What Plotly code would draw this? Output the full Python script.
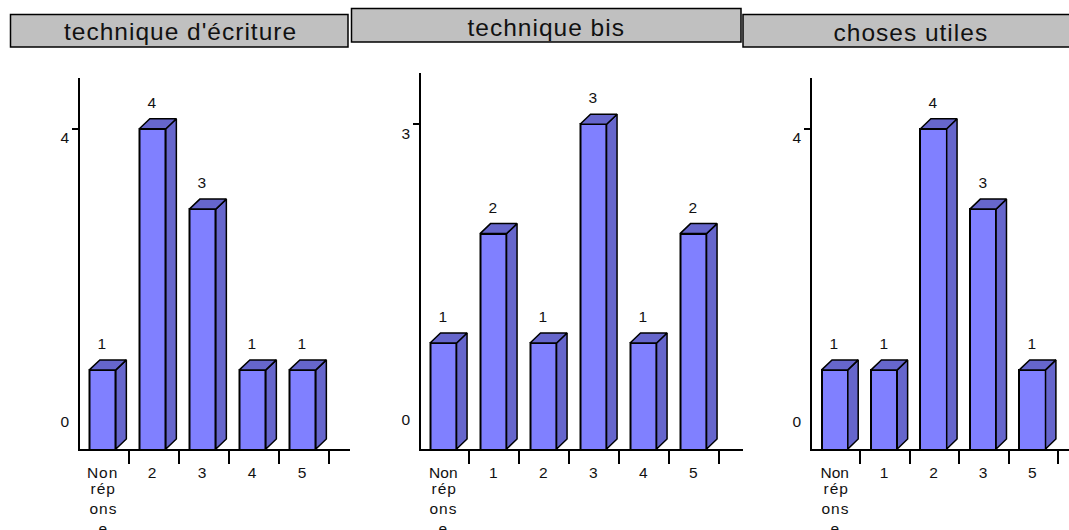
import plotly.graph_objects as go

W, H = 1069, 530

# ---- data ----
titles = ["technique d'écriture", "technique bis", "choses utiles"]
categories_1 = ["Non réponse", "2", "3", "4", "5"]
values_1 = [1, 4, 3, 1, 1]
categories_2 = ["Non réponse", "1", "2", "3", "4", "5"]
values_2 = [1, 2, 1, 3, 1, 2]
categories_3 = ["Non réponse", "1", "2", "3", "5"]
values_3 = [1, 1, 4, 3, 1]
axis_ticks = [[0, 4], [0, 3], [0, 4]]

# ---- layout constants (pixels of the 1069x530 page) ----
FRONT, SIDE, TOP = "#8080FF", "#6666CC", "#6666CC"
FONT = "Liberation Sans, Arial, sans-serif"
LABEL = dict(family=FONT, size=15.5, color="#111111")
boxes = [(10.5, 14.5, 348, 47), (351.5, 8.5, 741, 42), (743, 14.5, 1072, 47)]
title_y = [32, 28, 33]
title_x = [180, 546, 911]
panels = [
    dict(cats=categories_1, vals=values_1, ticks=axis_ticks[0], left=79.5, right=350, c0=102.6, top=78, zero=450.3, unit=80.4, tick_px=137, zero_px=421),
    dict(cats=categories_2, vals=values_2, ticks=axis_ticks[1], left=420.5, right=743, c0=443.3, top=73, zero=452.4, unit=109.4, tick_px=134, zero_px=419),
    dict(cats=categories_3, vals=values_3, ticks=axis_ticks[2], left=812, right=1072, c0=835, top=78, zero=450.3, unit=80.4, tick_px=137, zero_px=421),
]
BASE_PX = 449
SLOT = 50
BAR_W, DEPTH_X, DEPTH_Y = 26.5, 10.5, 10

fig = go.Figure()
shapes, annotations = [], []
layout_axes = {}


def note(px_x, px_y, text, font=LABEL):
    """Text placed at a page position given in pixels."""
    return dict(x=px_x / W, y=1 - px_y / H, xref="paper", yref="paper", text=text, showarrow=False,
                xanchor="center", yanchor="middle", font=font)


for k, p in enumerate(panels):
    sfx = "" if k == 0 else str(k + 1)
    xa, ya = "x" + sfx, "y" + sfx
    xmin = (p["left"] - p["c0"]) / SLOT
    xmax = (p["right"] - p["c0"]) / SLOT
    ymin = (p["zero"] - BASE_PX) / p["unit"]
    ymax = (p["zero"] - p["top"]) / p["unit"]
    idx = list(range(len(p["cats"])))
    hw = BAR_W / 2 / SLOT
    dx, dy = DEPTH_X / SLOT, DEPTH_Y / p["unit"]

    # side and top faces of each box, derived from the values through the axes
    sx, sy, tx, ty = [], [], [], []
    for i, v in zip(idx, p["vals"]):
        sx += [i + hw, i + hw + dx, i + hw + dx, i + hw, i + hw, None]
        sy += [ymin, ymin + dy, v + dy, v, ymin, None]
        tx += [i - hw, i - hw + dx, i + hw + dx, i + hw, i - hw, None]
        ty += [v, v + dy, v + dy, v, v, None]
    line = dict(color="black", width=1.5)
    fig.add_trace(go.Scatter(x=sx, y=sy, xaxis=xa, yaxis=ya, mode="lines", fill="toself",
                             fillcolor=SIDE, line=line, showlegend=False, hoverinfo="skip"))
    fig.add_trace(go.Scatter(x=tx, y=ty, xaxis=xa, yaxis=ya, mode="lines", fill="toself",
                             fillcolor=TOP, line=line, showlegend=False, hoverinfo="skip"))
    fig.add_trace(go.Bar(x=idx, y=p["vals"], width=BAR_W / SLOT, xaxis=xa, yaxis=ya,
                         marker=dict(color=FRONT, line=dict(color="black", width=2)),
                         showlegend=False, hoverinfo="x+y"))

    layout_axes["xaxis" + sfx] = dict(
        domain=[p["left"] / W, min(p["right"] / W, 1)], range=[xmin, xmax], anchor=ya,
        showgrid=False, zeroline=False, showline=True, linecolor="black", linewidth=1.5,
        tickmode="array", tickvals=idx,
        ticktext=[c.split()[0] if " " in c else c for c in p["cats"]],
        ticks="outside", ticklen=9, tickcolor="rgba(0,0,0,0)",
        tickfont=LABEL, tickangle=0,
        minor=dict(tickmode="array", tickvals=[i + 0.52 for i in idx], ticks="outside",
                   ticklen=13, tickwidth=1.5, tickcolor="black", showgrid=False),
    )
    layout_axes["yaxis" + sfx] = dict(
        domain=[1 - BASE_PX / H, 1 - p["top"] / H], range=[ymin, ymax], anchor=xa,
        showgrid=False, zeroline=False, showline=True, linecolor="black", linewidth=1.5,
        tickmode="array", tickvals=[p["ticks"][1]], ticktext=[""],
        ticks="outside", ticklen=6, tickwidth=1.5, tickcolor="black",
    )

    # value labels above the boxes
    for i, v in zip(idx, p["vals"]):
        annotations.append(dict(x=i, y=v, xref=xa, yref=ya, text=str(v), showarrow=False,
                                xanchor="center", yanchor="middle", yshift=26.5, font=LABEL))
    # axis numbers, sitting below their ticks as in the source
    annotations.append(note(p["left"] - 14.5, p["zero_px"], str(p["ticks"][0])))
    annotations.append(note(p["left"] - 14.5, p["tick_px"], str(p["ticks"][1])))
    # the long category wraps block by block under its tick label
    for n, part in enumerate(["rép", "ons", "e"]):
        annotations.append(note(p["c0"] + 0.5, 488 + 20 * n, part))

    # title box
    x0, y0, x1, y1 = boxes[k]
    shapes.append(dict(type="rect", xref="paper", yref="paper", x0=x0 / W, x1=x1 / W,
                       y0=1 - y1 / H, y1=1 - y0 / H, fillcolor="#C0C0C0",
                       line=dict(color="black", width=1.5), layer="below"))
    annotations.append(note(title_x[k], title_y[k], titles[k], dict(family=FONT, size=24.5, color="#111111")))

fig.update_layout(
    width=W, height=H, autosize=False, margin=dict(l=0, r=0, t=0, b=0),
    paper_bgcolor="white", plot_bgcolor="rgba(0,0,0,0)", showlegend=False, bargap=0,
    shapes=shapes, annotations=annotations, **layout_axes,
)
css = (
    "var s=document.createElement('style');"
    "s.textContent='body{margin:0;overflow:hidden} .annotation-text,.xtick text{letter-spacing:1px}';"
    "document.head.appendChild(s);"
)
fig.write_html("out.html", post_script=css, config={"displayModeBar": False})
